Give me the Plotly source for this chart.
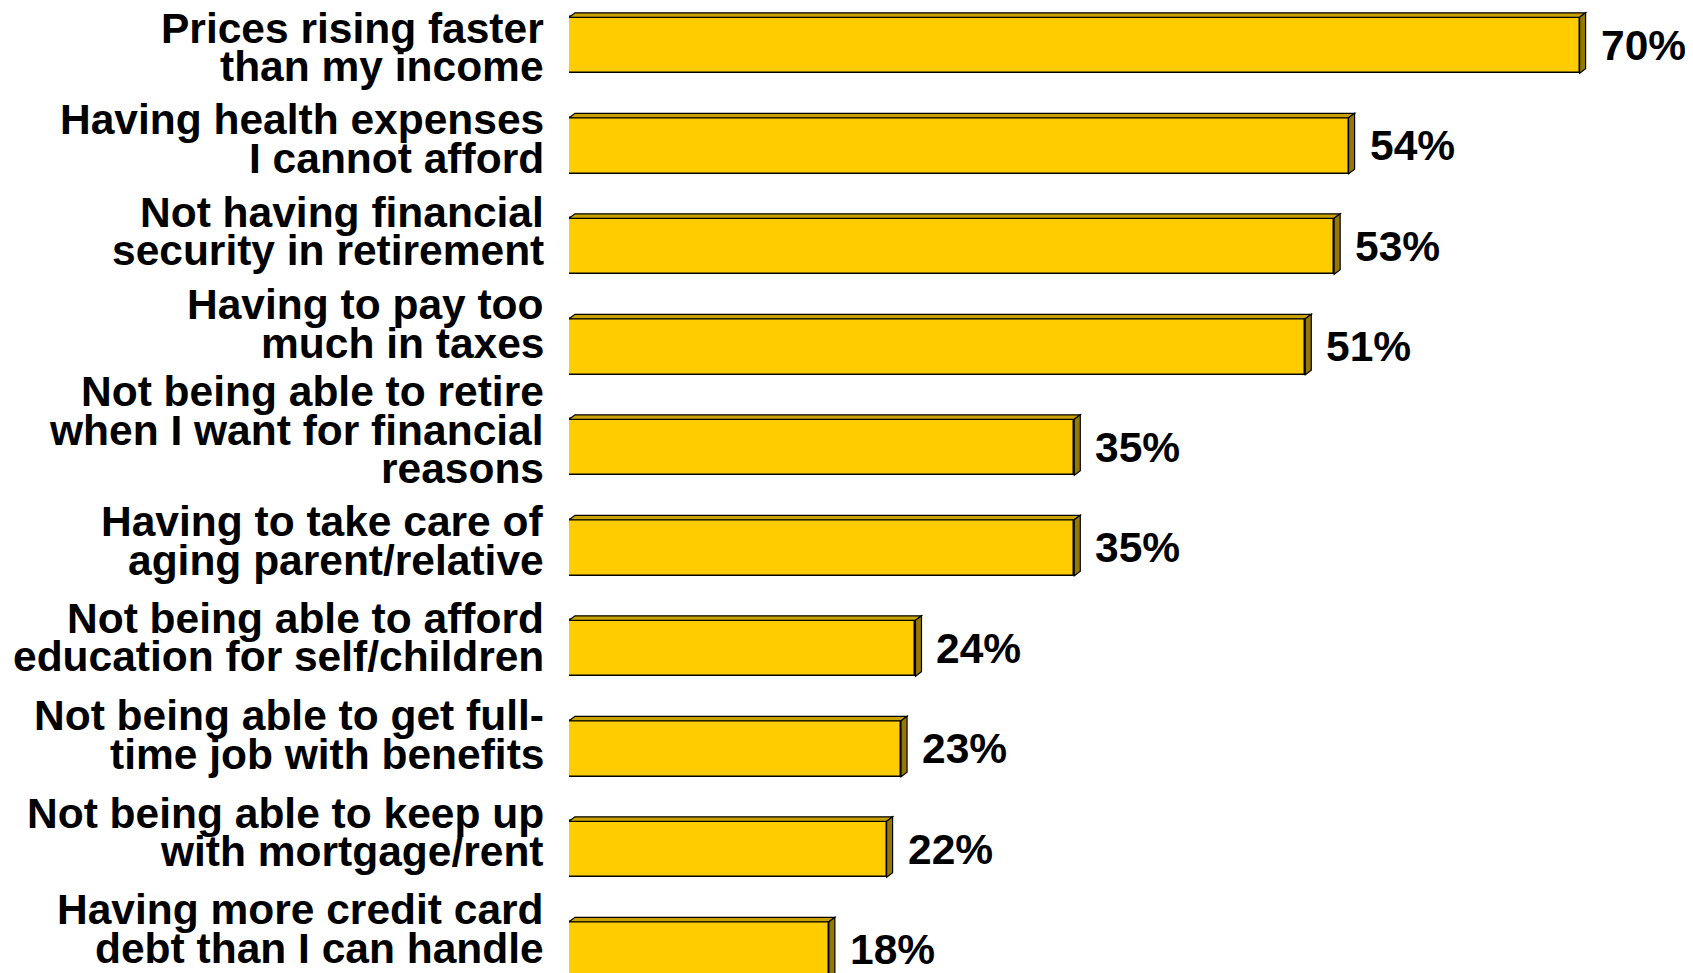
import plotly.graph_objects as go

categories = [
    "Prices rising faster<br>than my income",
    "Having health expenses<br>I cannot afford",
    "Not having financial<br>security in retirement",
    "Having to pay too<br>much in taxes",
    "Not being able to retire<br>when I want for financial<br>reasons",
    "Having to take care of<br>aging parent/relative",
    "Not being able to afford<br>education for self/children",
    "Not being able to get full-<br>time job with benefits",
    "Not being able to keep up<br>with mortgage/rent",
    "Having more credit card<br>debt than I can handle",
]
values = [70, 54, 53, 51, 35, 35, 24, 23, 22, 18]
value_labels = ["70%", "54%", "53%", "51%", "35%", "35%", "24%", "23%", "22%", "18%"]

# ---- layout constants (page has an 8px body margin) ----
PAGE_OFF = 8
W, H = 1693 - PAGE_OFF, 973 - PAGE_OFF
ML, MR = 569 - PAGE_OFF, 12
PX_PER_UNIT = 14.437          # pixels per percentage point
STEP = 100.5                  # pixels per category
FIRST_CENTER = 45.3 - PAGE_OFF
BAR_W = 0.557                 # bar thickness (category units)
LINE_GAP = 38.5
# vertical nudge (px, downward) of each category label block relative to its bar
LABEL_NUDGE = [2, -7, -15, -23, -17, -7, -11, -14, -17, -21]

xmax = (W - ML - MR) / PX_PER_UNIT
ytop = -FIRST_CENTER / STEP
ybot = ytop + H / STEP

FRONT = "#FFCC00"
TOP = "#C9A200"
SIDE = "#947800"
EDGE = "#000000"
FONT = dict(family="Arial, Liberation Sans, sans-serif", size=42.5, color="#000000", weight="bold")

ypos = list(range(len(categories)))

fig = go.Figure()
fig.add_trace(go.Bar(
    x=values, y=ypos, orientation="h", width=BAR_W,
    marker=dict(color=FRONT, line=dict(color=EDGE, width=1.5)),
    hoverinfo="skip", showlegend=False,
))

dx = 6 / PX_PER_UNIT
dy = 4.5 / STEP
h = BAR_W / 2
shapes = []
for i, v in enumerate(values):
    yt = i - h
    yb = i + h
    top_path = f"M 0 {yt} L {v} {yt} L {v+dx} {yt-dy} L {dx} {yt-dy} Z"
    side_path = f"M {v} {yt} L {v+dx} {yt-dy} L {v+dx} {yb-dy} L {v} {yb} Z"
    shapes.append(dict(type="path", path=top_path, xref="x", yref="y",
                       fillcolor=TOP, line=dict(color=EDGE, width=1.2), layer="above"))
    shapes.append(dict(type="path", path=side_path, xref="x", yref="y",
                       fillcolor=SIDE, line=dict(color=EDGE, width=1.2), layer="above"))

annotations = []
for i, (cat, v, lab) in enumerate(zip(categories, values, value_labels)):
    lines = cat.split("<br>")
    n = len(lines)
    for k, line in enumerate(lines):
        off = LABEL_NUDGE[i] + (k - (n - 1) / 2) * LINE_GAP
        annotations.append(dict(
            x=0, y=i, xref="x", yref="y", text=line, showarrow=False,
            xanchor="right", yanchor="middle", xshift=-23, yshift=-off,
            font=FONT,
        ))
    annotations.append(dict(
        x=v, y=i, xref="x", yref="y", text=lab, showarrow=False,
        xanchor="left", yanchor="middle", xshift=19, yshift=0,
        font=FONT,
    ))

fig.update_layout(
    width=W, height=H,
    margin=dict(l=ML, r=MR, t=0, b=0, pad=0),
    paper_bgcolor="white", plot_bgcolor="white",
    xaxis=dict(range=[0, xmax], visible=False, fixedrange=True),
    yaxis=dict(range=[ybot, ytop], visible=False, fixedrange=True),
    shapes=shapes, annotations=annotations,
    bargap=0, showlegend=False,
)

fig.write_html("out.html", config={"displayModeBar": False})
